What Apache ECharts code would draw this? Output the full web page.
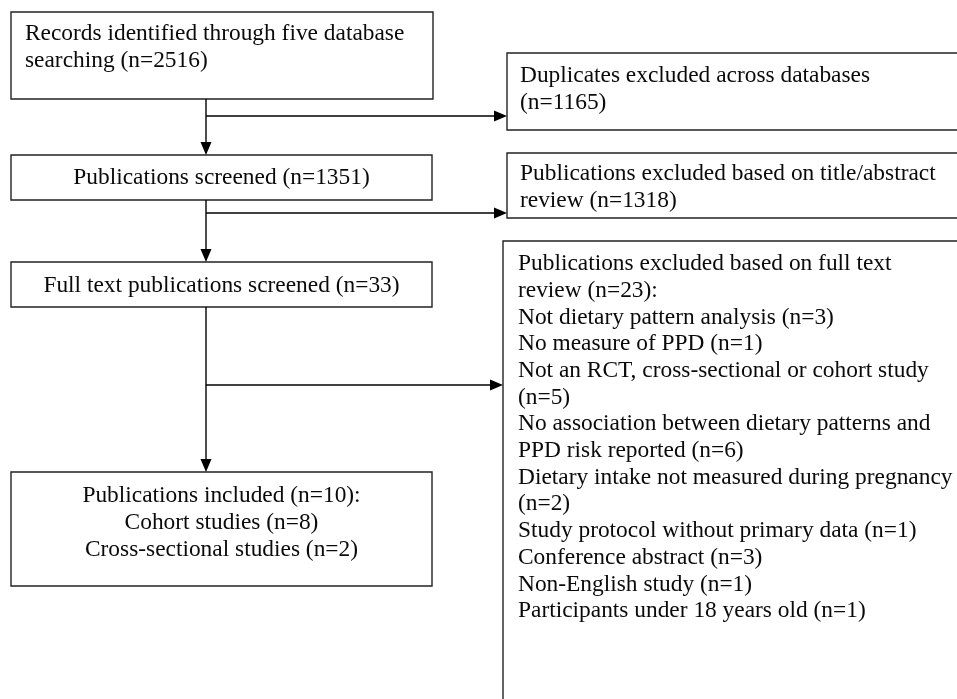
<!DOCTYPE html>
<html>
<head>
<meta charset="utf-8">
<script src="https://cdn.jsdelivr.net/npm/echarts@6/dist/echarts.min.js"></script>
<style>
html,body{margin:0;padding:0;background:#fff;}
#chart{width:957px;height:699px;}
</style>
</head>
<body>
<div id="chart"></div>
<script>
// ---- data ----
const stageLabels = [
  'Records identified through five database\nsearching (n={n})',
  'Publications screened (n={n})',
  'Full text publications screened (n={n})',
  'Publications included (n={n}):'
];
const stageCounts = [2516, 1351, 33, 10];
const exclusionLabels = [
  'Duplicates excluded across databases\n(n={n})',
  'Publications excluded based on title/abstract\nreview (n={n})',
  'Publications excluded based on full text\nreview (n={n}):'
];
const exclusionCounts = [1165, 1318, 23];
const reasonLabels = [
  'Not dietary pattern analysis (n={n})',
  'No measure of PPD (n={n})',
  'Not an RCT, cross-sectional or cohort study\n(n={n})',
  'No association between dietary patterns and\nPPD risk reported (n={n})',
  'Dietary intake not measured during pregnancy\n(n={n})',
  'Study protocol without primary data (n={n})',
  'Conference abstract (n={n})',
  'Non-English study (n={n})',
  'Participants under 18 years old (n={n})'
];
const reasonCounts = [3, 1, 5, 6, 2, 1, 3, 1, 1];
const includedLabels = ['Cohort studies (n={n})', 'Cross-sectional studies (n={n})'];
const includedCounts = [8, 2];

// ---- build texts ----
const fill = (t, n) => t.replace('{n}', n);
const boxTexts = [
  fill(stageLabels[0], stageCounts[0]),
  fill(stageLabels[1], stageCounts[1]),
  fill(stageLabels[2], stageCounts[2]),
  [fill(stageLabels[3], stageCounts[3])].concat(includedLabels.map((l, i) => fill(l, includedCounts[i]))).join('\n'),
  fill(exclusionLabels[0], exclusionCounts[0]),
  fill(exclusionLabels[1], exclusionCounts[1]),
  [fill(exclusionLabels[2], exclusionCounts[2])].concat(reasonLabels.map((l, i) => fill(l, reasonCounts[i]))).join('\n')
];

// ---- layout (diagram space, pixel-like units) ----
const boxLayout = [
  { rect: [11, 12, 433, 99], align: 'left', tx: 25, ty: 34 },
  { rect: [11, 155, 432, 200], align: 'center', ty: 178 },
  { rect: [11, 262, 432, 307], align: 'center', ty: 285.5 },
  { rect: [11, 472, 432, 586], align: 'center', ty: 496 },
  { rect: [507, 53, 975, 130], align: 'left', tx: 520, ty: 76 },
  { rect: [507, 153, 975, 218], align: 'left', tx: 520, ty: 174 },
  { rect: [503, 241, 975, 720], align: 'left', tx: 518, ty: 264 }
];
const arrowLayout = [
  [[206, 99], [206, 155]],
  [[206, 200], [206, 262]],
  [[206, 307], [206, 472]],
  [[206, 116], [507, 116]],
  [[206, 213], [507, 213]],
  [[206, 385], [503, 385]]
];

const FONT = '23.4px "Liberation Serif", "Times New Roman", serif';
const LH = 26.7;

const chart = echarts.init(document.getElementById('chart'), null, { renderer: 'canvas' });
chart.setOption({
  backgroundColor: '#ffffff',
  animation: false,
  grid: { left: 0, right: 0, top: 0, bottom: 0 },
  xAxis: { type: 'value', min: 0, max: 957, show: false },
  yAxis: { type: 'value', min: 0, max: 699, inverse: true, show: false },
  series: [
    {
      type: 'custom',
      clip: false,
      silent: true,
      data: boxTexts.map((t, i) => [i]),
      renderItem: function (params, api) {
        const L = boxLayout[params.dataIndex];
        const p0 = api.coord([L.rect[0], L.rect[1]]);
        const p1 = api.coord([L.rect[2], L.rect[3]]);
        const tx = L.align === 'center' ? api.coord([(L.rect[0] + L.rect[2]) / 2, 0])[0] : api.coord([L.tx, 0])[0];
        const ty = api.coord([0, L.ty])[1];
        return {
          type: 'group',
          children: [
            {
              type: 'rect',
              shape: { x: p0[0], y: p0[1], width: p1[0] - p0[0], height: p1[1] - p0[1] },
              style: { fill: '#fff', stroke: '#222', lineWidth: 1.4 }
            },
            {
              type: 'text',
              style: {
                text: boxTexts[params.dataIndex],
                x: tx,
                y: ty - LH / 2,
                font: FONT,
                fill: '#0a0a0a',
                align: L.align,
                verticalAlign: 'top',
                lineHeight: LH
              }
            }
          ]
        };
      }
    },
    {
      type: 'custom',
      clip: false,
      silent: true,
      data: arrowLayout.map((a, i) => [i]),
      renderItem: function (params, api) {
        const seg = arrowLayout[params.dataIndex];
        const a = api.coord(seg[0]);
        const b = api.coord(seg[1]);
        const dx = b[0] - a[0], dy = b[1] - a[1];
        const len = Math.sqrt(dx * dx + dy * dy);
        const ux = dx / len, uy = dy / len;
        const hl = 13, hw = 5.5;
        const base = [b[0] - ux * hl, b[1] - uy * hl];
        return {
          type: 'group',
          children: [
            {
              type: 'line',
              shape: { x1: a[0], y1: a[1], x2: base[0], y2: base[1] },
              style: { stroke: '#000', lineWidth: 1.4 }
            },
            {
              type: 'polygon',
              shape: { points: [b, [base[0] - uy * hw, base[1] + ux * hw], [base[0] + uy * hw, base[1] - ux * hw]] },
              style: { fill: '#000' }
            }
          ]
        };
      }
    }
  ]
});
</script>
</body>
</html>
